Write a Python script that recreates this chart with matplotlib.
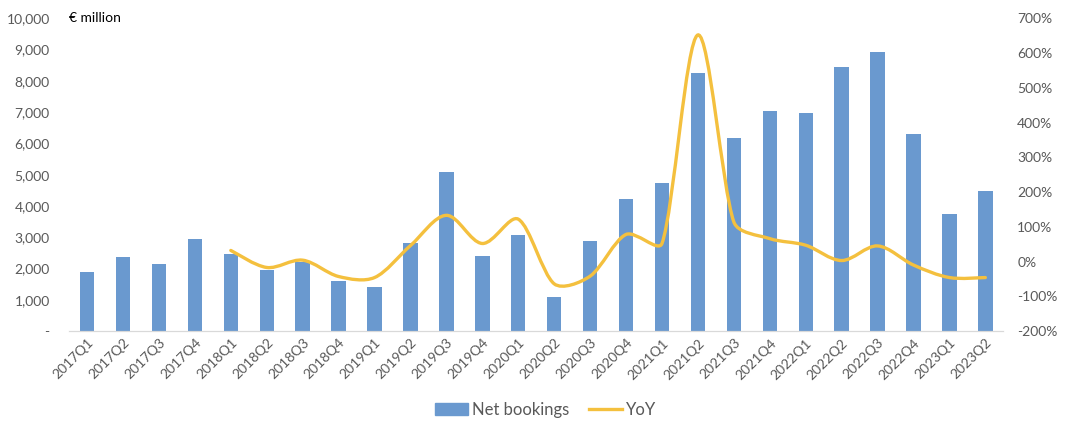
import math
import matplotlib.pyplot as plt
from matplotlib.path import Path
from matplotlib.patches import PathPatch
from matplotlib.lines import Line2D
from matplotlib.ticker import FuncFormatter

plt.rcParams['font.family'] = ['Lato', 'DejaVu Sans']

quarters = ["2017Q1", "2017Q2", "2017Q3", "2017Q4",
            "2018Q1", "2018Q2", "2018Q3", "2018Q4",
            "2019Q1", "2019Q2", "2019Q3", "2019Q4",
            "2020Q1", "2020Q2", "2020Q3", "2020Q4",
            "2021Q1", "2021Q2", "2021Q3", "2021Q4",
            "2022Q1", "2022Q2", "2022Q3", "2022Q4",
            "2023Q1", "2023Q2"]
net_bookings = [1880, 2370, 2140, 2930,
                2450, 1960, 2210, 1590,
                1400, 2820, 5090, 2390,
                3070, 1100, 2870, 4220,
                4730, 8250, 6170, 7030,
                6960, 8430, 8910, 6300,
                3730, 4490]
# YoY starts at 2018Q1 (percent)
yoy = [32, -17, 4, -43,
       -46, 46, 133, 52,
       122, -64, -42, 78,
       52, 652, 114, 66,
       47, 3, 45, -10,
       -46, -46]
yoy_start = 4

bar_color = "#6A99CF"
line_color = "#F4C03E"
text_color = "#595959"

fig = plt.figure(figsize=(10.8, 4.25), dpi=100)
ax = fig.add_axes([0.064, 0.221, 0.865, 0.736])
ax2 = ax.twinx()

x = list(range(len(quarters)))
ax.bar(x, net_bookings, width=0.4, color=bar_color, zorder=2)
ax.set_xlim(-0.5, len(quarters) - 0.5)
ax.set_ylim(0, 10000)
ax.set_yticks(range(0, 10001, 1000))
ax.yaxis.set_major_formatter(FuncFormatter(lambda v, p: "-" if v == 0 else f"{int(v):,}"))
ax.set_xticks(x)
ax.set_xticklabels(quarters, rotation=45, ha="right", rotation_mode="anchor")

ax2.set_ylim(-200, 700)
ax2.set_yticks(range(-200, 701, 100))
ax2.yaxis.set_major_formatter(FuncFormatter(lambda v, p: f"{int(v)}%"))

# smoothed line: bezier through the points (tension 1/6, shortened next to short segments)
lx = x[yoy_start:]
pts = list(zip(lx, yoy))
sx, sy = 35.9, 0.3467  # rough pixels per unit, only for segment lengths


def seg(a, b):
    return math.hypot((b[0] - a[0]) * sx, (b[1] - a[1]) * sy)


n = len(pts)
ctrl_out, ctrl_in = [], []
for i in range(n):
    p0 = pts[max(i - 1, 0)]
    p1 = pts[i]
    p2 = pts[min(i + 1, n - 1)]
    tx, ty = p2[0] - p0[0], p2[1] - p0[1]
    la, lb = seg(p0, p1), seg(p1, p2)
    tot = la + lb if la + lb > 0 else 1
    fa = min(1 / 6, la / tot / 3)
    fb = min(1 / 6, lb / tot / 3)
    ctrl_in.append((p1[0] - tx * fa, p1[1] - ty * fa))
    ctrl_out.append((p1[0] + tx * fb, p1[1] + ty * fb))

verts = [pts[0]]
codes = [Path.MOVETO]
for i in range(n - 1):
    verts += [ctrl_out[i], ctrl_in[i + 1], pts[i + 1]]
    codes += [Path.CURVE4] * 3
ax2.add_patch(PathPatch(Path(verts, codes), facecolor="none",
                        edgecolor=line_color, lw=2.4, capstyle="round", zorder=3))

for a in (ax, ax2):
    for s in ("top", "left", "right"):
        a.spines[s].set_visible(False)
    a.spines["bottom"].set_color("#D9D9D9")
    a.tick_params(length=0, colors=text_color, labelsize=10)
ax.tick_params(axis="x", labelsize=10, pad=4)
ax.tick_params(axis="y", pad=14)
ax2.tick_params(axis="y", pad=10)

ax.text(0.0, 1.0, "€ million", transform=ax.transAxes, fontsize=10,
        color="black", va="center", ha="left")

handles = [plt.Rectangle((0, 0), 1, 1, color=bar_color),
           Line2D([0], [0], color=line_color, lw=2.4)]
fig.legend(handles, ["Net bookings", "YoY"], loc="center",
           bbox_to_anchor=(0.505, 0.035), ncol=2, frameon=False,
           fontsize=12, labelcolor=text_color, handlelength=2.0,
           columnspacing=1.2, handletextpad=0.2)

fig.savefig("out.png", dpi=100)
